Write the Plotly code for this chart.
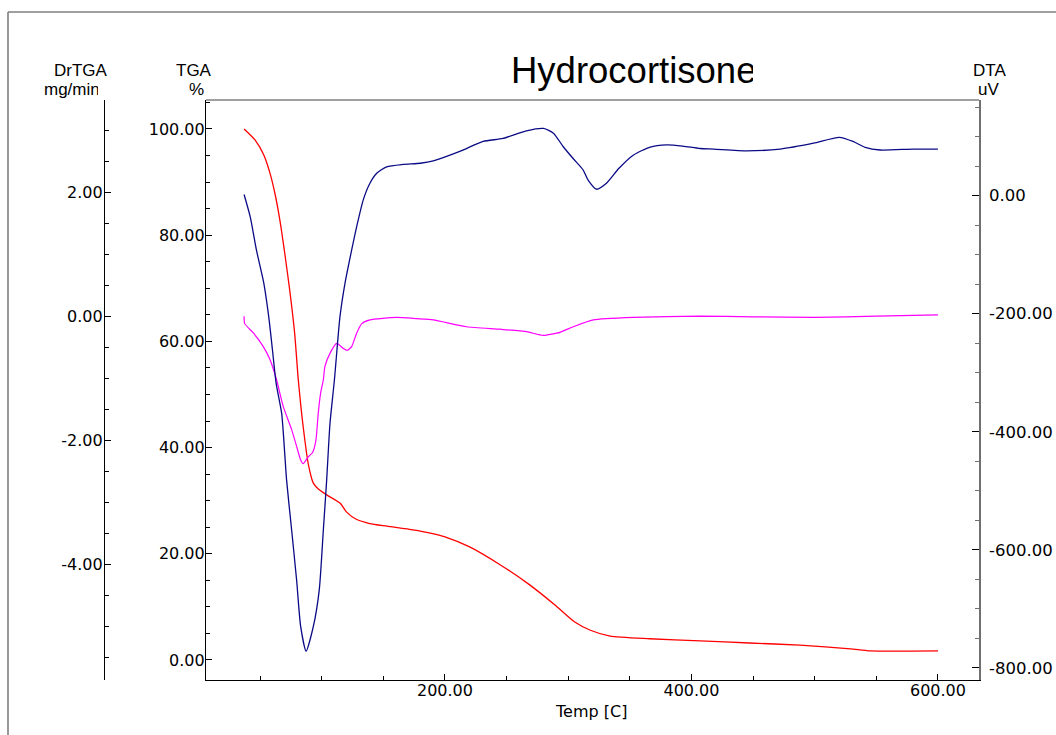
import plotly.graph_objects as go

# --- TGA (weight %, red) ---
temp_tga = [37, 46, 53, 58, 62, 66, 70, 74, 78, 81, 83.7, 86.4, 89.1, 93.2, 96.4,
            104, 115, 120, 128, 139, 153, 174, 188, 200, 220, 245, 269, 289, 305,
            318, 334, 366, 407, 447, 488, 529, 545, 600]
tga_pct = [100.0, 97.9, 95.1, 91.7, 87.9, 82.9, 76.6, 69.7, 61.6, 52.7, 46.4, 41.2,
           36.9, 33.3, 32.4, 31.1, 29.5, 27.9, 26.5, 25.7, 25.2, 24.5, 23.9, 23.2,
           21.3, 17.9, 14.1, 10.4, 7.2, 5.6, 4.5, 4.0, 3.6, 3.2, 2.8, 2.1, 1.7, 1.7]

# --- DTA (uV, navy) ---
temp_dta = [37, 42, 47, 53, 57, 60, 63, 67.5, 71.5, 75.6, 79.6, 82.9, 87.3, 93.2, 98,
            101.3, 104, 106.7, 110.3, 114.8, 118.9, 124.3, 128.4, 133.7, 139.1, 144.6,
            152.7, 166, 180, 190.5, 212, 231, 247, 266, 280, 288, 296, 304, 312, 316,
            323, 331, 341, 353, 366, 380, 393, 407, 418, 445, 472, 499, 520, 531, 541,
            553, 580, 600]
dta_uv = [2, -36, -92, -148, -205, -261, -318, -369, -482, -567, -651, -730, -772,
          -730, -668, -567, -482, -386, -312, -205, -148, -92, -52, -7, 21, 38, 49,
          53, 55, 59, 75, 92, 97, 110, 114, 106, 83, 63, 44, 27, 11, 21, 46, 69, 82,
          86, 84, 80, 79, 76, 79, 89, 99, 92, 82, 77.5, 79, 79]

# --- DrTGA (mg/min, magenta) ---
temp_drtga = [37, 37.5, 44.5, 52.6, 58, 63.4, 68.8, 75.6, 79.6, 82.9, 85, 89.1, 92.6,
              95.3, 97.2, 99.1, 101.3, 102.6, 106.7, 112.1, 117.5, 120.8, 124.3, 128.4,
              132.5, 139.1, 160.7, 177, 190.5, 217.6, 244.6, 266.3, 279.8, 293.3, 304.1,
              320.4, 352.8, 406.9, 450, 500, 550, 600]
drtga = [0.0, -0.12, -0.27, -0.49, -0.70, -1.03, -1.46, -1.83, -2.10, -2.32, -2.38,
         -2.27, -2.20, -2.00, -1.56, -1.24, -1.03, -0.81, -0.60, -0.44, -0.52, -0.55,
         -0.49, -0.27, -0.12, -0.06, -0.02, -0.04, -0.06, -0.17, -0.21, -0.25, -0.31,
         -0.26, -0.17, -0.06, -0.02, 0.0, -0.01, -0.02, 0.0, 0.02]

# tick positions and labels
temp_ticks = [200, 400, 600]
temp_labels = ["200.00", "400.00", "600.00"]
tga_ticks = [0, 20, 40, 60, 80, 100]
tga_labels = ["0.00", "20.00", "40.00", "60.00", "80.00", "100.00"]
drtga_ticks = [-4, -2, 0, 2]
drtga_labels = ["-4.00", "-2.00", "0.00", "2.00"]
dta_ticks = [-800, -600, -400, -200, 0]
dta_labels = ["-800.00", "-600.00", "-400.00", "-200.00", "0.00"]

# axis ranges
temp_range = [6.1, 633.3]
tga_range = [-3.77, 105.46]
drtga_range = [-5.871, 3.489]
dta_range = [-820.8, 162.2]

W, H = 1056, 735
SANS = "Liberation Sans, Arial, sans-serif"
TICKS = "DejaVu Sans, Verdana, sans-serif"


def px(x):
    return x / W


def py(y):
    return 1 - y / H


plot_x = [px(206), px(979)]
plot_y = [py(680), py(100)]

fig = go.Figure()
fig.add_trace(go.Scatter(x=temp_tga, y=tga_pct, mode="lines", yaxis="y",
                         line=dict(color="#ff0000", width=1.3, shape="spline", smoothing=0.6),
                         showlegend=False))
fig.add_trace(go.Scatter(x=temp_dta, y=dta_uv, mode="lines", yaxis="y3",
                         line=dict(color="#0a0a86", width=1.3, shape="spline", smoothing=0.6),
                         showlegend=False))
fig.add_trace(go.Scatter(x=temp_drtga, y=drtga, mode="lines", yaxis="y2",
                         line=dict(color="#ff00ff", width=1.2, shape="spline", smoothing=0.5),
                         showlegend=False))

tick_font = dict(family=TICKS, size=16, color="black")

fig.update_layout(
    width=W, height=H,
    margin=dict(l=0, r=0, t=0, b=0),
    paper_bgcolor="white", plot_bgcolor="white",
    showlegend=False,
    xaxis=dict(domain=plot_x, range=temp_range, showgrid=False, zeroline=False,
               showline=True, linecolor="black", linewidth=1.2,
               ticks="inside", ticklen=6, tickcolor="black",
               tickmode="array", tickvals=temp_ticks, ticktext=temp_labels,
               tickfont=tick_font, ticklabelstandoff=-4,
               minor=dict(ticks="inside", ticklen=3.5, dtick=50, tick0=0, tickcolor="black")),
    yaxis=dict(domain=plot_y, range=tga_range, anchor="x", showgrid=False, zeroline=False,
               showline=True, linecolor="black", linewidth=1.2,
               ticks="inside", ticklen=6, tickcolor="black",
               tickmode="array", tickvals=tga_ticks, ticktext=tga_labels,
               tickfont=tick_font, ticklabelstandoff=-3,
               minor=dict(ticks="inside", ticklen=4, dtick=5, tick0=0, tickcolor="black")),
    yaxis2=dict(range=drtga_range, overlaying="y", anchor="free", position=px(104),
                side="left", showgrid=False, zeroline=False,
                showline=True, linecolor="black", linewidth=1.2,
                ticks="inside", ticklen=6, tickcolor="black",
                tickmode="array", tickvals=drtga_ticks, ticktext=drtga_labels,
                tickfont=tick_font, ticklabelstandoff=-2,
                minor=dict(ticks="inside", ticklen=4, dtick=0.5, tick0=0, tickcolor="black")),
    yaxis3=dict(range=dta_range, overlaying="y", anchor="x", side="right",
                showgrid=False, zeroline=False,
                showline=True, linecolor="#707070", linewidth=1.5,
                ticks="inside", ticklen=7, tickcolor="black",
                tickmode="array", tickvals=dta_ticks, ticktext=dta_labels,
                tickfont=dict(family=TICKS, size=16.5, color="black"), ticklabelstandoff=5,
                minor=dict(ticks="inside", ticklen=4, dtick=50, tick0=0, tickcolor="#707070")),
    # outward stubs of the major ticks on the two left scales
    yaxis4=dict(range=tga_range, overlaying="y", anchor="x", side="left",
                showgrid=False, zeroline=False, showline=False,
                ticks="outside", ticklen=5, tickcolor="black",
                tickmode="array", tickvals=tga_ticks, showticklabels=False),
    yaxis5=dict(range=drtga_range, overlaying="y", anchor="free", position=px(104),
                side="left", showgrid=False, zeroline=False, showline=False,
                ticks="outside", ticklen=3, tickcolor="black",
                tickmode="array", tickvals=drtga_ticks, showticklabels=False),
)

# frame: outer border and top edge of plotting area
fig.add_shape(type="line", xref="paper", yref="paper", x0=px(8), x1=1, y0=py(12), y1=py(12),
              line=dict(color="#7f7f7f", width=1.6))
fig.add_shape(type="line", xref="paper", yref="paper", x0=px(8), x1=px(8), y0=py(12), y1=0,
              line=dict(color="#7f7f7f", width=1.6))
fig.add_shape(type="line", xref="x domain", yref="y domain", x0=0, x1=1, y0=1, y1=1,
              line=dict(color="#7f7f7f", width=1.5))

label_font = dict(family=SANS, size=17, color="black")


def label(text, x, y, anchor="center", **kw):
    fig.add_annotation(text=text, x=px(x), y=py(y), xref="paper", yref="paper",
                       xanchor=anchor, yanchor="middle", showarrow=False,
                       font=kw.pop("font", label_font), **kw)


label("Hydrocortisone", 509, 70, anchor="left", width=242, align="left",
      font=dict(family=SANS, size=36.5, color="black"))
label("DrTGA", 81, 70)
label("mg/min", 42, 89, anchor="left", width=54, align="left")
label("TGA", 193.5, 70)
label("%", 196, 89)
label("DTA", 989, 70)
label("uV", 988.5, 89)
label("Temp [C]", 591, 711, font=dict(family=TICKS, size=16, color="black"))

fig.write_html("out.html")
